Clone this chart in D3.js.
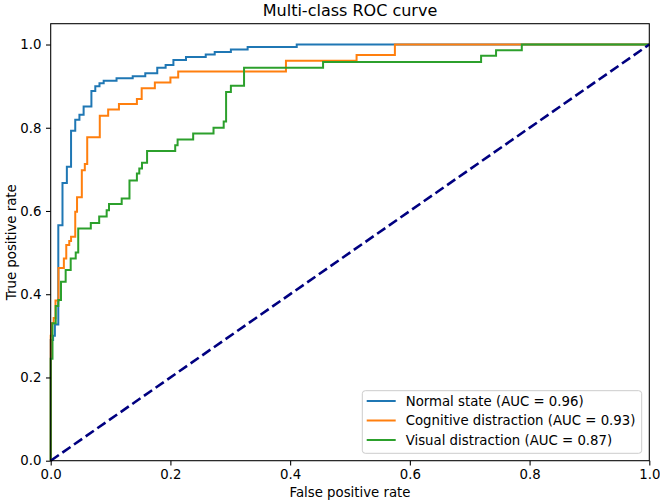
<!doctype html>
<html>
  <head>
    <script src="https://cdn.jsdelivr.net/npm/d3@7"></script>
    <style>
      body { margin: 0; background: #fff; }
      svg text { font-family: "DejaVu Sans", sans-serif; fill: #000; }
    </style>
  </head>
  <body>
    <svg id="chart" width="660" height="502"></svg>

    <script>
      // ROC points (fpr, tpr pairs, step corners)
      var normalFpr = [0, 0, 0.004, 0.007, 0.0127, 0.0197, 0.027, 0.034, 0.041, 0.048, 0.055, 0.068, 0.0745, 0.0815, 0.0885, 0.11, 0.137, 0.158, 0.178, 0.192, 0.205, 0.226, 0.259, 0.274, 0.301, 0.329, 0.411, 1];
      var normalTpr = [0, 0.29, 0.30, 0.327, 0.566, 0.667, 0.706, 0.793, 0.819, 0.831, 0.851, 0.888, 0.90, 0.907, 0.913, 0.919, 0.924, 0.931, 0.944, 0.951, 0.963, 0.970, 0.976, 0.982, 0.988, 0.994, 1.0, 1.0];

      var cognitiveFpr = [0, 0, 0.002, 0.005, 0.008, 0.013, 0.022, 0.026, 0.031, 0.034, 0.041, 0.044, 0.052, 0.057, 0.061, 0.082, 0.096, 0.114, 0.144, 0.152, 0.174, 0.200, 0.213, 0.393, 0.511, 0.575, 1];
      var cognitiveTpr = [0, 0.30, 0.33, 0.343, 0.385, 0.463, 0.486, 0.518, 0.528, 0.538, 0.598, 0.633, 0.698, 0.713, 0.777, 0.829, 0.844, 0.857, 0.869, 0.895, 0.909, 0.921, 0.935, 0.961, 0.975, 1.0, 1.0];

      var visualFpr = [0, 0, 0.003, 0.0084, 0.0127, 0.0172, 0.025, 0.0334, 0.0418, 0.046, 0.067, 0.081, 0.0935, 0.0974, 0.1186, 0.1316, 0.144, 0.148, 0.1525, 0.161, 0.208, 0.212, 0.238, 0.272, 0.289, 0.293, 0.301, 0.323, 0.455, 0.719, 0.744, 0.787, 1];
      var visualTpr = [0, 0.245, 0.33, 0.372, 0.386, 0.43, 0.458, 0.486, 0.50, 0.558, 0.571, 0.587, 0.602, 0.617, 0.63, 0.673, 0.69, 0.702, 0.716, 0.744, 0.758, 0.772, 0.786, 0.80, 0.815, 0.886, 0.901, 0.944, 0.958, 0.973, 0.986, 1.0, 1.0];

      var seriesNames = ["Normal state", "Cognitive distraction", "Visual distraction"];
      var aucValues = ["0.96", "0.93", "0.87"];
      var seriesColors = ["#1f77b4", "#ff7f0e", "#2ca02c"];
      var tickValues = [0, 0.2, 0.4, 0.6, 0.8, 1.0];

      var series = [
        { fpr: normalFpr, tpr: normalTpr },
        { fpr: cognitiveFpr, tpr: cognitiveTpr },
        { fpr: visualFpr, tpr: visualTpr }
      ];

      var W = 660, H = 502;
      var m = { left: 50.7, right: 10.7, top: 23.7, bottom: 41.3 };
      var pw = W - m.left - m.right, ph = H - m.top - m.bottom;

      var svg = d3.select("#chart");
      var g = svg.append("g").attr("transform", "translate(" + m.left + "," + m.top + ")");

      var x = d3.scaleLinear().domain([0, 1]).range([0, pw]);
      var y = d3.scaleLinear().domain([0, 1.05]).range([ph, 0]);

      var line = d3.line()
        .x(function(d) { return x(d[0]); })
        .y(function(d) { return y(d[1]); })
        .curve(d3.curveStepAfter);

      series.forEach(function(s, i) {
        var pts = s.fpr.map(function(f, j) { return [f, s.tpr[j]]; });
        g.append("path")
          .attr("d", line(pts))
          .attr("fill", "none")
          .attr("stroke", seriesColors[i])
          .attr("stroke-width", 2);
      });

      // chance line
      g.append("path")
        .attr("d", d3.line().x(function(d) { return x(d); }).y(function(d) { return y(d); })([0, 1]))
        .attr("stroke", "navy")
        .attr("stroke-width", 2.6)
        .attr("stroke-dasharray", "9.9,4.3")
        .attr("fill", "none");

      var fmt = d3.format(".1f");
      var xAxis = g.append("g")
        .attr("transform", "translate(0," + ph + ")")
        .call(d3.axisBottom(x).tickValues(tickValues).tickFormat(fmt).tickSizeOuter(0).tickSize(4.7).tickPadding(4.5));
      var yAxis = g.append("g")
        .call(d3.axisLeft(y).tickValues(tickValues).tickFormat(fmt).tickSizeOuter(0).tickSize(4.7).tickPadding(4.5));

      [xAxis, yAxis].forEach(function(a) {
        a.select(".domain").remove();
        a.selectAll("line").attr("stroke", "#000").attr("stroke-width", 1.07);
        a.selectAll("text").attr("font-size", "13.3px").attr("font-family", "DejaVu Sans");
      });

      // frame
      g.append("rect")
        .attr("width", pw).attr("height", ph)
        .attr("fill", "none").attr("stroke", "#000").attr("stroke-width", 1.07);

      svg.append("text")
        .attr("x", m.left + pw / 2).attr("y", 16)
        .attr("text-anchor", "middle").attr("font-size", "16px")
        .text("Multi-class ROC curve");

      svg.append("text")
        .attr("x", m.left + pw / 2).attr("y", 497)
        .attr("text-anchor", "middle").attr("font-size", "13.3px")
        .text("False positive rate");

      svg.append("text")
        .attr("transform", "translate(16," + (m.top + ph / 2) + ") rotate(-90)")
        .attr("text-anchor", "middle").attr("font-size", "13.3px")
        .text("True positive rate");

      // legend
      var lg = g.append("g").attr("transform", "translate(" + (pw - 7.6 - 279.4) + "," + (ph - 7.4 - 62.6) + ")");
      lg.append("rect")
        .attr("width", 279.4).attr("height", 62.6).attr("rx", 3)
        .attr("fill", "#fff").attr("fill-opacity", 0.8)
        .attr("stroke", "#cccccc").attr("stroke-width", 1);
      seriesNames.forEach(function(name, i) {
        var cy = 10.3 + i * 19.5;
        lg.append("line")
          .attr("x1", 4.4).attr("x2", 33.4).attr("y1", cy).attr("y2", cy)
          .attr("stroke", seriesColors[i]).attr("stroke-width", 2);
        lg.append("text")
          .attr("x", 43.4).attr("y", cy + 4.8)
          .attr("font-size", "13.3px")
          .text(name + " (AUC = " + aucValues[i] + ")");
      });
    </script>
  </body>
</html>
